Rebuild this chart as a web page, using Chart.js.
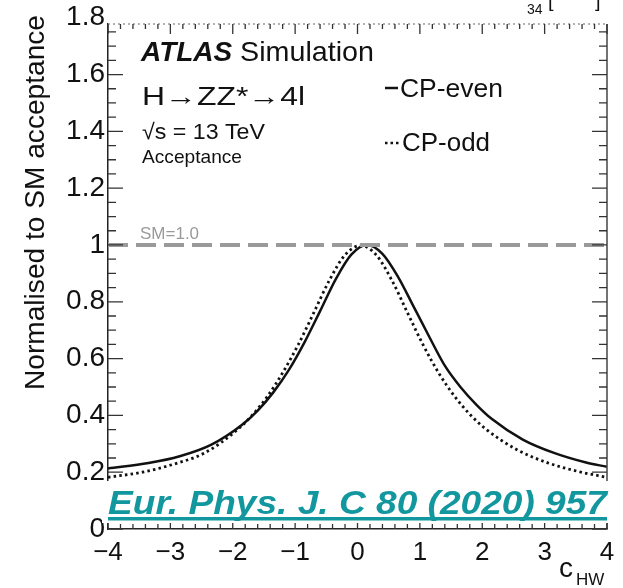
<!DOCTYPE html>
<html>
<head>
<meta charset="utf-8">
<script src="https://cdn.jsdelivr.net/npm/chart.js@4.4.1/dist/chart.umd.min.js"></script>
<style>
  html, body { margin: 0; padding: 0; background: #fff; }
  #wrap { position: relative; width: 623px; height: 588px; }
</style>
</head>
<body>
<div id="wrap"><canvas id="chart" width="623" height="588"></canvas></div>
<script>
// acceptance normalised to SM
const evenX = [-4, -3.35, -2.85, -2.35, -1.85, -1.6, -1.35, -1.1, -0.85, -0.6, -0.35, -0.1, 0.15, 0.4, 0.65, 0.9, 1.15, 1.4, 1.65, 1.9, 2.15, 2.65, 3.15, 3.65, 4];
const evenY = [0.213, 0.232, 0.256, 0.296, 0.367, 0.417, 0.481, 0.56, 0.657, 0.767, 0.879, 0.966, 1.0, 0.969, 0.888, 0.783, 0.677, 0.575, 0.5, 0.439, 0.388, 0.315, 0.268, 0.235, 0.219];
const oddX = [-4, -3.45, -2.95, -2.45, -1.95, -1.7, -1.45, -1.2, -0.95, -0.7, -0.45, -0.2, 0.05, 0.3, 0.55, 0.8, 1.05, 1.3, 1.55, 1.8, 2.05, 2.55, 3.05, 3.55, 4];
const oddY = [0.182, 0.2, 0.228, 0.268, 0.345, 0.398, 0.465, 0.55, 0.649, 0.762, 0.876, 0.965, 0.998, 0.965, 0.876, 0.762, 0.649, 0.55, 0.469, 0.404, 0.353, 0.28, 0.233, 0.202, 0.182];
const smX = [-4, 4];
const smY = [1.0, 1.0];
const yTickValues = [0, 0.2, 0.4, 0.6, 0.8, 1, 1.2, 1.4, 1.6, 1.8];
const xTickValues = [-4, -3, -2, -1, 0, 1, 2, 3, 4];

const FONT = '"Liberation Sans", Arial, Helvetica, sans-serif';
const TEAL = '#12979f';

const toPoints = (xs, ys) => xs.map((x, i) => ({ x: x, y: ys[i] }));

// draw text squeezed/stretched to a given width
function fitText(ctx, text, x, y, width) {
    const w = ctx.measureText(text).width;
    ctx.save();
    ctx.translate(x, y);
    ctx.scale(width / w, 1);
    ctx.fillText(text, 0, 0);
    ctx.restore();
}

// inside ticks on all four sides, frame and the text labels
const decorations = {
    id: 'decorations',
    afterDatasetsDraw(chart) {
        const { ctx, chartArea: a, scales } = chart;
        const xs = scales.x, ys = scales.y;
        ctx.save();

        // right frame
        ctx.strokeStyle = '#444';
        ctx.lineWidth = 1.5;
        ctx.beginPath();
        ctx.moveTo(a.right, a.top);
        ctx.lineTo(a.right, a.bottom);
        ctx.stroke();
        // top frame (dotted gray in the scan)
        ctx.strokeStyle = '#999';
        ctx.setLineDash([2, 3]);
        ctx.beginPath();
        ctx.moveTo(a.left, a.top);
        ctx.lineTo(a.right, a.top);
        ctx.stroke();
        ctx.setLineDash([]);

        // y ticks
        ctx.strokeStyle = '#333';
        ctx.lineWidth = 1.3;
        for (let i = 0; i <= 35; i++) {
            const v = i * 0.05;
            if (v > ys.max + 1e-6) break;
            const len = i % 4 === 0 ? 15 : 8;
            const py = ys.getPixelForValue(v);
            ctx.beginPath();
            ctx.moveTo(a.left, py); ctx.lineTo(a.left + len, py);
            ctx.moveTo(a.right, py); ctx.lineTo(a.right - len, py);
            ctx.stroke();
        }
        // x ticks
        for (let i = 0; i <= 40; i++) {
            const v = -4 + i * 0.2;
            const major = i % 5 === 0;
            const px = xs.getPixelForValue(v);
            ctx.beginPath();
            ctx.moveTo(px, a.bottom); ctx.lineTo(px, a.bottom - (major ? 10 : 5));
            ctx.moveTo(px, a.top); ctx.lineTo(px, a.top + (major ? 10 : 5));
            ctx.stroke();
        }

        ctx.fillStyle = '#111';

        // y axis title
        ctx.font = '27px ' + FONT;
        ctx.save();
        ctx.translate(37, 15);
        ctx.rotate(-Math.PI / 2);
        ctx.textAlign = 'right';
        ctx.textBaseline = 'middle';
        const yt = 'Normalised to SM acceptance';
        const ytw = ctx.measureText(yt).width;
        ctx.scale(375 / ytw, 1);
        ctx.fillText(yt, 0, 0);
        ctx.restore();

        ctx.textAlign = 'left';
        ctx.textBaseline = 'alphabetic';

        // x axis title c_HW
        ctx.font = '28px ' + FONT;
        ctx.fillText('c', 559, 577);
        ctx.font = '17px ' + FONT;
        ctx.fillText('HW', 576, 585);

        // ATLAS label block
        ctx.font = 'italic bold 28px ' + FONT;
        ctx.fillText('ATLAS', 141, 61);
        const wA = ctx.measureText('ATLAS ').width;
        ctx.font = '28px ' + FONT;
        fitText(ctx, 'Simulation', 141 + wA, 61, 374 - 141 - wA);
        ctx.font = '25px ' + FONT;
        fitText(ctx, 'H\u2192ZZ*\u21924l', 142, 105, 163);
        ctx.font = '22px ' + FONT;
        fitText(ctx, '\u221As = 13 TeV', 142, 139, 123);
        ctx.font = '19px ' + FONT;
        fitText(ctx, 'Acceptance', 142, 163, 100);

        // legend
        ctx.font = '25px ' + FONT;
        ctx.strokeStyle = '#111';
        ctx.lineWidth = 2.5;
        ctx.beginPath();
        ctx.moveTo(385, 88); ctx.lineTo(398, 88);
        ctx.stroke();
        fitText(ctx, 'CP-even', 400, 97, 103);
        ctx.setLineDash([2.5, 3]);
        ctx.beginPath();
        ctx.moveTo(385, 143); ctx.lineTo(400, 143);
        ctx.stroke();
        ctx.setLineDash([]);
        fitText(ctx, 'CP-odd', 402, 151, 88);

        // SM label
        ctx.fillStyle = '#9a9a9a';
        ctx.font = '17px ' + FONT;
        ctx.fillText('SM=1.0', 140, 239);

        // cropped text from the neighbouring figure
        ctx.fillStyle = '#111';
        ctx.font = '14px ' + FONT;
        ctx.fillText('34', 527, 14);
        ctx.font = '20px ' + FONT;
        ctx.fillText('[', 548, 7);
        ctx.fillText(']', 595, 7);

        // journal banner
        ctx.fillStyle = '#fff';
        ctx.fillRect(102, 481, 510, 42);
        ctx.fillStyle = TEAL;
        ctx.font = 'italic bold 33px ' + FONT;
        fitText(ctx, 'Eur. Phys. J. C 80 (2020) 957', 108, 514, 499);
        ctx.fillRect(108, 517, 499, 3.5);

        ctx.restore();
    }
};

new Chart(document.getElementById('chart'), {
    type: 'line',
    data: {
        datasets: [
            {
                label: 'SM=1.0',
                data: toPoints(smX, smY),
                borderColor: '#9a9a9a',
                borderWidth: 4,
                borderDash: [20, 8],
                pointRadius: 0
            },
            {
                label: 'CP-even',
                data: toPoints(evenX, evenY),
                borderColor: '#111',
                borderWidth: 2.5,
                cubicInterpolationMode: 'monotone',
                pointRadius: 0
            },
            {
                label: 'CP-odd',
                data: toPoints(oddX, oddY),
                borderColor: '#111',
                borderWidth: 2.8,
                borderDash: [2.5, 3.2],
                cubicInterpolationMode: 'monotone',
                pointRadius: 0
            }
        ]
    },
    options: {
        responsive: false,
        animation: false,
        layout: { padding: { top: 24, right: 16, left: 0, bottom: 0 } },
        plugins: { legend: { display: false }, tooltip: { enabled: false } },
        scales: {
            x: {
                type: 'linear',
                min: -4,
                max: 4,
                afterBuildTicks: (s) => { s.ticks = xTickValues.map(v => ({ value: v })); },
                afterFit: (s) => { s.height = 59; },
                grid: { display: false, drawTicks: false },
                border: { display: true, color: '#222', width: 1.5 },
                ticks: {
                    color: '#111',
                    font: { family: FONT, size: 26 },
                    padding: 8,
                    maxRotation: 0,
                    callback: (v) => v < 0 ? '\u2212' + Math.abs(v) : String(v)
                }
            },
            y: {
                min: 0,
                max: 1.778,
                afterBuildTicks: (s) => { s.ticks = yTickValues.map(v => ({ value: v })); },
                afterFit: (s) => { s.width = 108; },
                grid: { display: false, drawTicks: false },
                border: { display: true, color: '#222', width: 1.5 },
                ticks: {
                    color: '#111',
                    font: { family: FONT, size: 28 },
                    padding: 3,
                    callback: (v) => String(Math.round(v * 10) / 10)
                }
            }
        }
    },
    plugins: [decorations]
});
</script>
</body>
</html>
